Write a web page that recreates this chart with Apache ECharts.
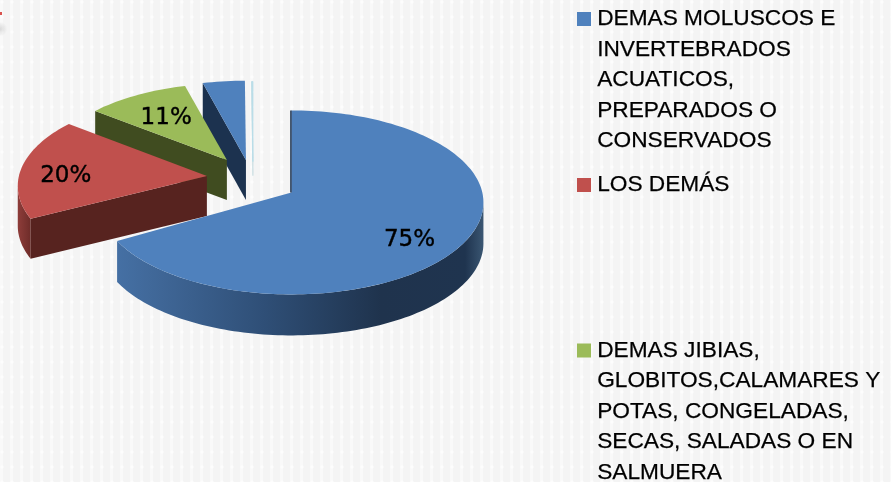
<!DOCTYPE html>
<html>
<head>
<meta charset="utf-8">
<style>
html,body{margin:0;padding:0;width:891px;height:482px;overflow:hidden;background-color:#f4f4f4;
background-image:
 radial-gradient(circle at 2px 2px, rgba(255,255,255,.75) 1.2px, transparent 2px),
 linear-gradient(90deg, rgba(255,255,255,.45) 3px, transparent 3px);
background-size:10px 15px, 10px 15px;}
#c{width:891px;height:482px;}
</style>
<script src="https://cdn.jsdelivr.net/npm/echarts@6/dist/echarts.min.js"></script>
</head>
<body>
<div id="c"></div>
<script>
const categories = [
  'DEMAS MOLUSCOS E\nINVERTEBRADOS\nACUATICOS,\nPREPARADOS O\nCONSERVADOS',
  'LOS DEMÁS',
  'DEMAS JIBIAS,\nGLOBITOS,CALAMARES Y\nPOTAS, CONGELADAS,\nSECAS, SALADAS O EN\nSALMUERA',
  'OTROS',
  'RESTO'
];
const values = [75, 20, 11, 4, 0.1];
const labels = ['75%', '20%', '11%', '', ''];

const topColors = ['#4f81bd', '#c0504d', '#9bbb59', '#4f81bd', '#b9dde8'];
const cutColors = ['#1c324f', '#57231f', '#404c20', '#1c324f', '#cfe0e4'];
const explode = [0.25, 0.234, 0.25, 0.22, 0.2];
const radiusScale = [1, 0.985, 0.94, 0.97, 0.98];
const depths = [41, 40, 40, 40, 14];
// 3D view distorts the drawn angles a little: [start, end] shift in degrees
const viewShift = [[0, 0], [3.5, 2.5], [2.5, 0], [0, 0], [0, 0]];
const nudgeX = [0, 0, 0, 0, 2];
const labelFactor = [0.73, 0.76, 0.67, 0, 0];
const labelNudgeY = [1, 3, -2, 0, 0];
const legendSlotTop = [10, 176, 341.5];

const RX = 192, RY = 92, BASE_X = 251, BASE_Y = 180, PERSPECTIVE = 10;
const total = values.reduce((a, b) => a + b, 0);
const rad = d => d * Math.PI / 180;

function wallFill(i) {
  if (i === 0) {
    return new echarts.graphic.LinearGradient(0, 0, 1, 0, [
      { offset: 0, color: '#4570a4' },
      { offset: 0.12, color: '#3f6696' },
      { offset: 0.4, color: '#2f4f77' },
      { offset: 0.72, color: '#1f334d' },
      { offset: 0.95, color: '#1f344f' },
      { offset: 1, color: '#3a5672' }
    ]);
  }
  if (i === 1) {
    return new echarts.graphic.LinearGradient(0, 0, 1, 0, [
      { offset: 0, color: '#8e3d3a' },
      { offset: 1, color: '#6e2c29' }
    ]);
  }
  return cutColors[i];
}

function renderSlice(params, api) {
  const i = params.dataIndex;
  const v = api.value(1);
  let acc = 0;
  for (let k = 0; k < i; k++) acc += values[k];
  const a = acc / total * 360 + viewShift[i][0];
  const b = (acc + v) / total * 360 + viewShift[i][1];
  const mid = (a + b) / 2;
  const depth = depths[i];
  const rx = RX * radiusScale[i], ry = RY * radiusScale[i];
  const ax = BASE_X + nudgeX[i] + explode[i] * RX * Math.sin(rad(mid));
  const ay = BASE_Y - explode[i] * RY * Math.cos(rad(mid));
  const cy = ay + PERSPECTIVE;
  const pt = (t, dz) => [ax + rx * Math.sin(rad(t)), cy - ry * Math.cos(rad(t)) + (dz || 0)];
  const apex = [ax, ay];
  const children = [];

  const arc = [];
  const steps = Math.max(2, Math.ceil((b - a) / 1.5));
  for (let s = 0; s <= steps; s++) arc.push(pt(a + (b - a) * s / steps));

  // outer wall: visible on the front half of the ellipse
  const fa = Math.max(a, 90), fb = Math.min(b, 270);
  if (fb > fa) {
    const up = [], down = [];
    const n = Math.ceil((fb - fa) / 1.5);
    for (let s = 0; s <= n; s++) {
      const t = fa + (fb - fa) * s / n;
      up.push(pt(t));
      down.unshift(pt(t, depth));
    }
    children.push({ type: 'polygon', shape: { points: up.concat(down) }, style: { fill: wallFill(i) } });
  }
  // cut face at the slice start: visible when it faces the viewer
  if (Math.sin(rad(a)) < -1e-6) {
    const p = pt(a);
    const style = v < 1
      ? { fill: cutColors[i], stroke: cutColors[i], lineWidth: 1 }
      : { fill: cutColors[i] };
    children.push({
      type: 'polygon',
      shape: { points: [apex, p, [p[0], p[1] + depth], [apex[0], apex[1] + depth]] },
      style
    });
  }
  // top face
  children.push({
    type: 'polygon',
    shape: { points: [apex].concat(arc) },
    style: v < 1 ? { fill: topColors[i], stroke: topColors[i], lineWidth: 1 } : { fill: topColors[i] }
  });
  if (a === 0) {
    const p = pt(0);
    children.push({
      type: 'line',
      shape: { x1: p[0] - 0.5, y1: p[1], x2: apex[0] - 0.5, y2: apex[1] },
      style: { stroke: cutColors[i], lineWidth: 1.5 }
    });
  }
  if (labels[i]) {
    children.push({
      type: 'text',
      style: {
        text: labels[i],
        x: ax + rx * labelFactor[i] * Math.sin(rad(mid)),
        y: cy - ry * labelFactor[i] * Math.cos(rad(mid)) + labelNudgeY[i],
        align: 'center', verticalAlign: 'middle',
        font: '23px "DejaVu Sans"', fill: '#000', stroke: '#000', lineWidth: 0.4
      }
    });
  }
  return { type: 'group', children: children.map(c => Object.assign(c, { z2: 10 - i })) };
}

const legendGraphic = [];
legendSlotTop.forEach((top, i) => {
  legendGraphic.push({
    type: 'rect', left: 577, top: top + 2,
    shape: { width: 14, height: 14 }, style: { fill: topColors[i] }
  });
  legendGraphic.push({
    type: 'text', left: 597, top: top - 6,
    style: { text: categories[i], font: '22.7px "Liberation Sans"', lineHeight: 30.4, fill: '#000', stroke: '#000', lineWidth: 0.25 }
  });
});
legendGraphic.push({
  type: 'rect', left: 0, top: 10, shape: { width: 12, height: 38 },
  style: { fill: new echarts.graphic.RadialGradient(0, 0.5, 0.6, [
    { offset: 0, color: 'rgba(190,190,190,0.55)' },
    { offset: 1, color: 'rgba(190,190,190,0)' }
  ]) }
});
legendGraphic.push({
  type: 'rect', left: 0, top: 12, shape: { width: 2, height: 3 }, style: { fill: '#d9534f' }
});

const chart = echarts.init(document.getElementById('c'), null, { renderer: 'canvas' });
chart.setOption({
  animation: false,
  backgroundColor: 'transparent',
  graphic: legendGraphic,
  series: [{
    type: 'custom',
    coordinateSystem: 'none',
    renderItem: renderSlice,
    data: values.map((v, i) => ({ name: categories[i], value: [i, v] }))
  }]
});
</script>
</body>
</html>
